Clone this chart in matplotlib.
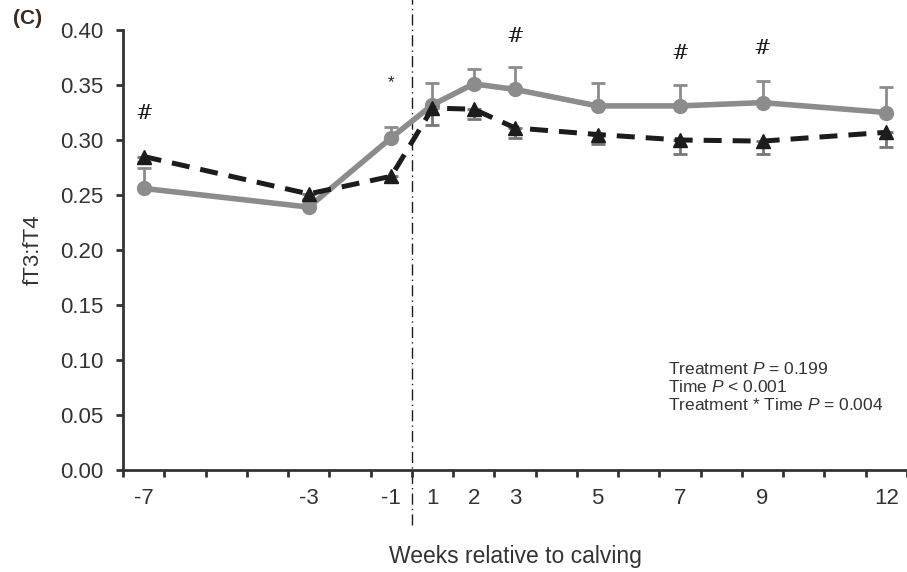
"""fT3:fT4 ratio around calving, two treatments."""

import numpy as np
import matplotlib
matplotlib.use("Agg")
import matplotlib.pyplot as plt
import matplotlib.transforms as mtransforms

plt.rcParams["font.family"] = ["Liberation Sans", "DejaVu Sans"]
plt.rcParams["mathtext.fontset"] = "custom"
plt.rcParams["mathtext.rm"] = "Liberation Sans"
plt.rcParams["mathtext.it"] = "Liberation Sans:italic"

weeks = [-7, -3, -1, 1, 2, 3, 5, 7, 9, 12]
grey_mean = [0.256, 0.239, 0.302, 0.332, 0.351, 0.346, 0.331, 0.331, 0.334, 0.325]
grey_se = [0.019, 0.004, 0.010, 0.020, 0.014, 0.020, 0.021, 0.019, 0.020, 0.023]
black_mean = [0.285, 0.251, 0.267, 0.329, 0.328, 0.311, 0.305, 0.300, 0.299, 0.307]
black_se = [0.005, 0.005, 0.005, 0.015, 0.009, 0.009, 0.009, 0.013, 0.0115, 0.013]

# significance marks: (week, y, symbol)
marks = [(-7, 0.324, "#"), (-1, 0.3525, "*"), (3, 0.394, "#"),
         (7, 0.379, "#"), (9, 0.383, "#")]

stats_lines = ["Treatment $P$ = 0.199", "Time $P$ < 0.001",
               "Treatment * Time $P$ = 0.004"]

GREY = "#8c8c8c"
BLACK = "#1c1c1c"
AXC = "#333333"


def wpos(w):
    # no week 0 -> one slot per week, centred in its slot
    return w + 7.5 if w < 0 else w + 6.5


def main():
    x = np.array([wpos(w) for w in weeks])
    gm = np.array(grey_mean); gs = np.array(grey_se)
    bm = np.array(black_mean); bs = np.array(black_se)

    fig = plt.figure(figsize=(9.07, 5.72), dpi=100)
    ax = fig.add_axes([123 / 907, 1 - 470 / 572, 1 - 123 / 907, 440 / 572])

    # error bars (grey upper, black lower)
    ax.errorbar(x, gm, yerr=[np.zeros_like(gs), gs], fmt="none", ecolor=GREY,
                elinewidth=2, capsize=5, capthick=2, zorder=2)
    ax.errorbar(x, bm, yerr=[bs, np.zeros_like(bs)], fmt="none", ecolor="#777777",
                elinewidth=2, capsize=5, capthick=2, zorder=2)

    ax.plot(x, gm, color=GREY, lw=4, marker="o", ms=10, zorder=3)
    ax.plot(x, bm, color=BLACK, lw=3.6, ls=(0, (3.6, 2.2)), marker="^", ms=10,
            zorder=4)

    # calving line, runs past the axes
    trans = mtransforms.blended_transform_factory(ax.transData, ax.transAxes)
    ax.plot([7, 7], [-0.125, 1.07], transform=trans, color=BLACK, lw=1,
            ls=(0, (8, 3, 1, 3)), clip_on=False, zorder=1)

    for w, yv, s in marks:
        ax.text(wpos(w), yv, s, ha="center", va="center", fontsize=15 if s == "#" else 12,
                color=BLACK, family=["DejaVu Serif"] if s == "#" else None)

    for i, line in enumerate(stats_lines):
        ax.text(13.2, 0.0916 - i * 0.0164, line, fontsize=12.5, color=AXC,
                va="center", ha="left")

    ax.set_xlim(0, 19)
    ax.set_ylim(0, 0.40)
    ax.set_yticks(np.arange(0, 0.401, 0.05))
    ax.set_yticklabels([f"{v:.2f}" for v in np.arange(0, 0.401, 0.05)])
    ax.set_xticks(np.arange(0, 20))
    ax.set_xticklabels([])
    ax.set_xticks(x, minor=True)
    ax.set_xticklabels([str(w) for w in weeks], minor=True)

    ax.tick_params(axis="x", which="major", length=5, width=2, color=AXC)
    ax.tick_params(axis="x", which="minor", length=0, pad=13, labelsize=16,
                   labelcolor=AXC)
    ax.tick_params(axis="y", length=5, width=2, color=AXC, labelsize=16,
                   labelcolor=AXC, pad=9)

    for side in ("top", "right"):
        ax.spines[side].set_visible(False)
    for side in ("left", "bottom"):
        ax.spines[side].set_linewidth(2)
        ax.spines[side].set_color(AXC)

    ax.set_ylabel("fT3:fT4", fontsize=16, color=AXC, labelpad=12)
    ax.set_xlabel("Weeks relative to calving", fontsize=16.5, color=AXC, labelpad=26)

    fig.text(13 / 907, 1 - 19 / 572, "(C)", fontsize=15, fontweight="bold",
             color="#3b2a20", va="center", ha="left")

    fig.savefig("out.png", dpi=100)


if __name__ == "__main__":
    main()
